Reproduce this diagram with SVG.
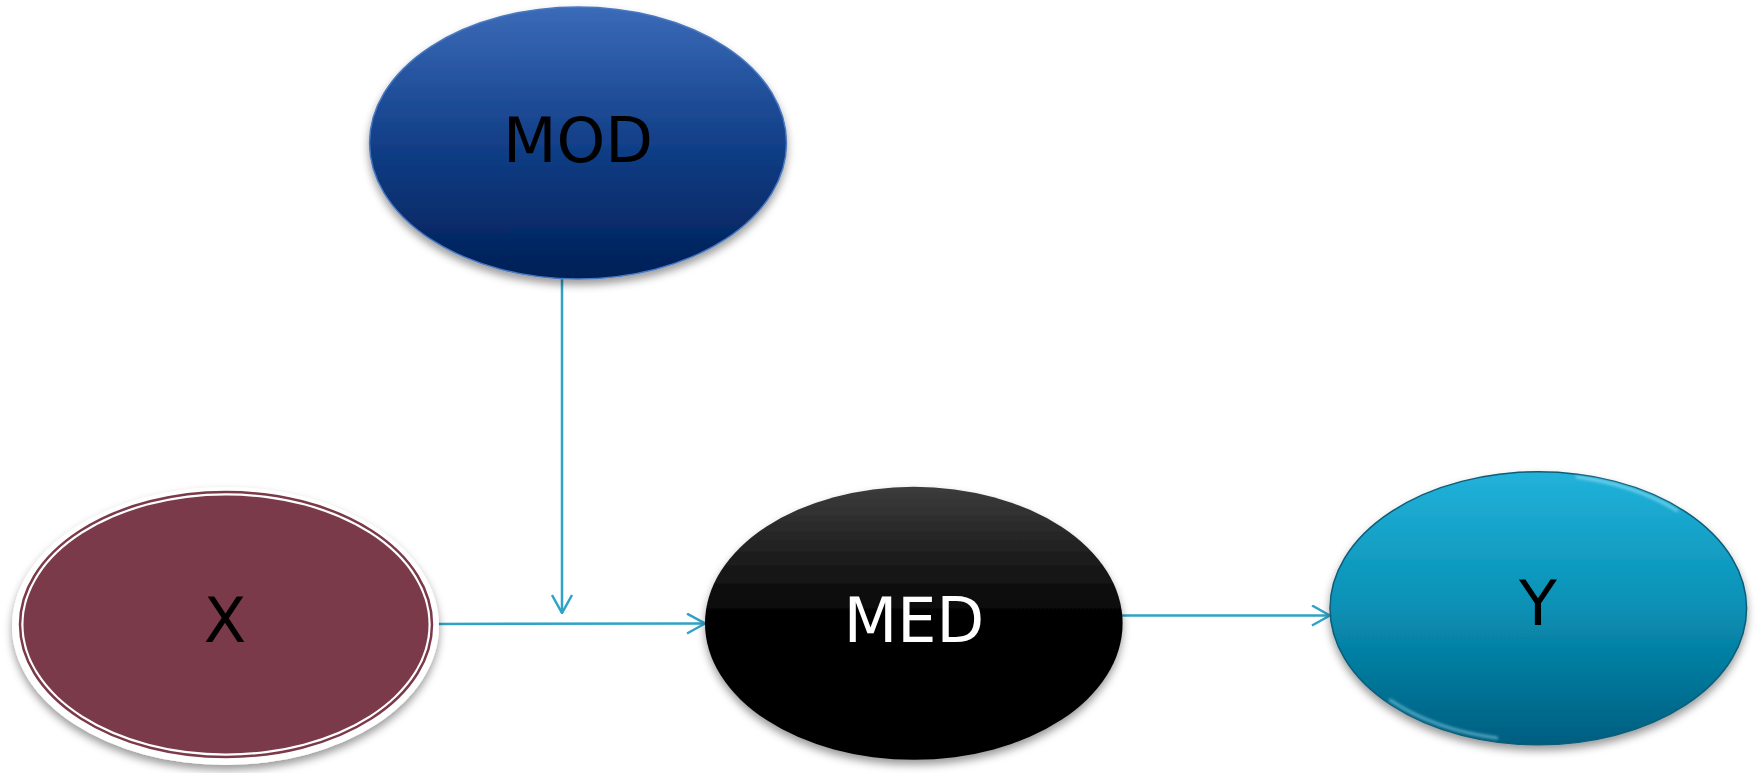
<svg xmlns="http://www.w3.org/2000/svg" width="1761" height="773" viewBox="0 0 1761 773">
<style>
.lbl{font-family:"DejaVu Sans","Liberation Sans",sans-serif;font-size:62px;text-anchor:middle}
.conn{stroke:#2fa3c5;stroke-width:2.5;fill:none}
</style>
<defs>
<filter id="sh" x="-10%" y="-10%" width="120%" height="130%">
<feDropShadow dx="0" dy="5" stdDeviation="4" flood-color="#000" flood-opacity="0.4"/>
</filter>
<filter id="blur" x="-20%" y="-50%" width="140%" height="200%"><feGaussianBlur stdDeviation="1.5"/></filter>
<linearGradient id="gMod" x1="0" y1="0" x2="0" y2="1">
<stop offset="0" stop-color="#3b6bb8"/><stop offset="0.5" stop-color="#123f88"/><stop offset="1" stop-color="#001f56"/>
</linearGradient>
<linearGradient id="gMed" x1="0" y1="0" x2="0" y2="1">
<stop offset="0" stop-color="#3c3c3c"/><stop offset="0.5" stop-color="#000"/><stop offset="1" stop-color="#000"/>
</linearGradient>
<linearGradient id="gY" x1="0" y1="0" x2="0" y2="1">
<stop offset="0" stop-color="#22b2da"/><stop offset="0.5" stop-color="#0890b4"/><stop offset="1" stop-color="#015e80"/>
</linearGradient>
<marker id="arr" viewBox="0 0 20 22" refX="19" refY="11" markerWidth="20" markerHeight="22" orient="auto" markerUnits="userSpaceOnUse">
<path d="M1,1 L19,11 L1,21" fill="none" stroke="#2fa3c5" stroke-width="2.5"/>
</marker>
</defs>
<rect width="1761" height="773" fill="#fff"/>
<g id="connectors">
<line class="conn" x1="562" y1="279" x2="562" y2="613" marker-end="url(#arr)"/>
<line class="conn" x1="433" y1="624" x2="705" y2="623.5" marker-end="url(#arr)"/>
<line class="conn" x1="1122" y1="615.5" x2="1330" y2="615.5" marker-end="url(#arr)"/>
</g>
<g id="node-mod">
<ellipse cx="578" cy="143" rx="208.5" ry="136" fill="url(#gMod)" stroke="#4a78c0" stroke-width="1.5" filter="url(#sh)"/>
<text class="lbl" x="578" y="161.5" fill="#000">MOD</text>
</g>
<g id="node-x">
<ellipse cx="225.5" cy="626" rx="213.5" ry="139" fill="#fff" filter="url(#sh)"/>
<ellipse cx="226" cy="624.5" rx="206" ry="132.5" fill="none" stroke="#7b3a4a" stroke-width="2.5"/>
<ellipse cx="226" cy="624.5" rx="202.5" ry="129" fill="#7b3a4a"/>
<text class="lbl" x="225" y="641.5" fill="#000">X</text>
</g>
<g id="node-med">
<ellipse cx="913.8" cy="623.3" rx="208.8" ry="136.5" fill="url(#gMed)" filter="url(#sh)"/>
<text class="lbl" x="914" y="641.5" fill="#fff">MED</text>
</g>
<g id="node-y">
<ellipse cx="1538.3" cy="608.3" rx="208.3" ry="136.5" fill="url(#gY)" stroke="#0a5c78" stroke-width="1.5" filter="url(#sh)"/>
<path d="M1577,477 A205,133 0 0 1 1677,510.5" fill="none" stroke="#9be6f8" stroke-width="2.5" stroke-linecap="round" stroke-opacity="0.75" filter="url(#blur)"/>
<path d="M1497,738 A205,133 0 0 1 1390,700" fill="none" stroke="#8ed8ee" stroke-width="2.5" stroke-linecap="round" stroke-opacity="0.7" filter="url(#blur)"/>
<text class="lbl" x="1538" y="625" fill="#000">Y</text>
</g>
</svg>
